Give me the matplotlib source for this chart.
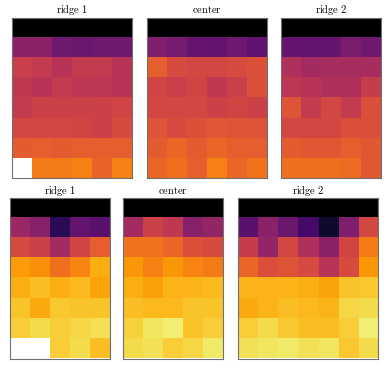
import numpy as np
import matplotlib
matplotlib.use("Agg")
import matplotlib.pyplot as plt

nan = np.nan
titles = ["ridge 1", "center", "ridge 2", "ridge 1", "center", "ridge 2"]

top_ridge1 = [
    [0, 0, 0, 0, 0, 0],
    [0.38, 0.38, 0.31, 0.30, 0.31, 0.31],
    [0.54, 0.52, 0.49, 0.52, 0.52, 0.49],
    [0.51, 0.49, 0.52, 0.51, 0.50, 0.49],
    [0.52, 0.55, 0.55, 0.55, 0.55, 0.56],
    [0.57, 0.57, 0.57, 0.56, 0.55, 0.58],
    [0.63, 0.64, 0.63, 0.64, 0.64, 0.64],
    [nan, 0.71, 0.71, 0.72, 0.65, 0.72],
]
top_center = [
    [0, 0, 0, 0, 0, 0],
    [0.35, 0.33, 0.29, 0.28, 0.31, 0.27],
    [0.64, 0.58, 0.57, 0.57, 0.58, 0.60],
    [0.56, 0.54, 0.56, 0.51, 0.54, 0.60],
    [0.57, 0.57, 0.57, 0.55, 0.56, 0.55],
    [0.61, 0.58, 0.60, 0.62, 0.61, 0.61],
    [0.63, 0.66, 0.63, 0.66, 0.64, 0.64],
    [0.66, 0.68, 0.64, 0.72, 0.66, 0.69],
]
top_ridge2 = [
    [0, 0, 0, 0, 0],
    [0.29, 0.28, 0.29, 0.34, 0.31],
    [0.47, 0.44, 0.45, 0.45, 0.45],
    [0.50, 0.49, 0.47, 0.47, 0.53],
    [0.61, 0.52, 0.57, 0.52, 0.59],
    [0.57, 0.57, 0.57, 0.59, 0.59],
    [0.63, 0.62, 0.62, 0.64, 0.62],
    [0.68, 0.68, 0.68, 0.67, 0.62],
]
bot_ridge1 = [
    [0, 0, 0, 0, 0],
    [0.42, 0.37, 0.15, 0.28, 0.26],
    [0.58, 0.55, 0.44, 0.56, 0.64],
    [0.78, 0.75, 0.68, 0.73, 0.82],
    [0.82, 0.85, 0.82, 0.84, 0.80],
    [0.86, 0.81, 0.87, 0.86, 0.86],
    [0.88, 0.91, 0.88, 0.90, 0.92],
    [nan, nan, 0.88, 0.91, 0.85],
]
bot_center = [
    [0, 0, 0, 0, 0],
    [0.44, 0.55, 0.51, 0.37, 0.40],
    [0.69, 0.69, 0.66, 0.60, 0.58],
    [0.77, 0.72, 0.77, 0.73, 0.71],
    [0.82, 0.79, 0.83, 0.83, 0.84],
    [0.85, 0.84, 0.84, 0.86, 0.86],
    [0.89, 0.93, 0.95, 0.86, 0.88],
    [0.91, 0.92, 0.88, 0.90, 0.94],
]
bot_ridge2 = [
    [0, 0, 0, 0, 0, 0, 0],
    [0.26, 0.38, 0.30, 0.21, 0.08, 0.35, 0.57],
    [0.53, 0.40, 0.57, 0.47, 0.38, 0.56, 0.71],
    [0.66, 0.59, 0.61, 0.58, 0.49, 0.58, 0.77],
    [0.83, 0.83, 0.83, 0.82, 0.80, 0.86, 0.87],
    [0.81, 0.83, 0.85, 0.84, 0.83, 0.90, 0.91],
    [0.88, 0.91, 0.87, 0.85, 0.85, 0.88, 0.95],
    [0.92, 0.93, 0.94, 0.92, 0.93, 0.87, 0.91],
]
panels = [top_ridge1, top_center, top_ridge2, bot_ridge1, bot_center, bot_ridge2]

plt.rcParams["mathtext.fontset"] = "cm"

W, H = 390, 368
fig = plt.figure(figsize=(W / 100, H / 100), dpi=100)

# pixel boxes: left, top, width, height
boxes = [
    (12, 17.5, 120, 160.5),
    (147, 17.5, 120, 160.5),
    (281, 17.5, 100, 160.5),
    (10, 198, 100, 160.5),
    (123, 198, 100, 160.5),
    (238, 198, 140, 160.5),
]

for data, title, (l, t, w, h) in zip(panels, titles, boxes):
    ax = fig.add_axes([l / W, 1 - (t + h) / H, w / W, h / H])
    arr = np.ma.masked_invalid(np.array(data, dtype=float))
    ax.imshow(arr, cmap="inferno", vmin=0, vmax=1, aspect="auto",
              interpolation="nearest")
    ax.set_xticks([])
    ax.set_yticks([])
    for s in ax.spines.values():
        s.set_color("#707070")
        s.set_linewidth(0.8)
    ax.set_title(r"$\mathrm{" + title.replace(" ", r"\ ") + "}$",
                 fontsize=7.5, pad=3)

fig.savefig("out.png", dpi=100)
